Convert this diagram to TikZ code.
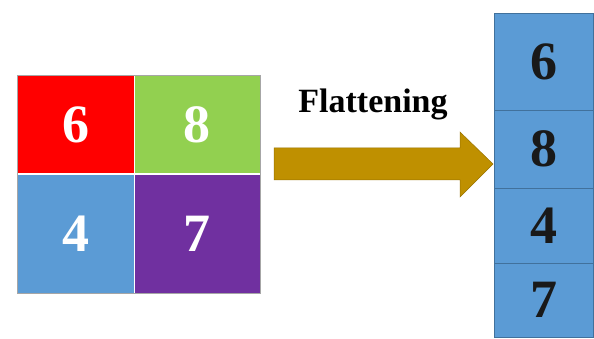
\documentclass[tikz,border=0pt]{standalone}
\usepackage{fontspec}
\setmainfont{Liberation Serif}
\definecolor{cred}{HTML}{FF0000}
\definecolor{cgreen}{HTML}{92D050}
\definecolor{cblue}{HTML}{5B9BD5}
\definecolor{cpurple}{HTML}{7030A0}
\definecolor{cgold}{HTML}{BF9000}
\definecolor{cedge}{HTML}{41719C}
\begin{document}
\begin{tikzpicture}[x=1pt,y=-1pt,
  cell/.style={draw=white, line width=1pt, inner sep=0pt, outer sep=0pt,
    text=white, font=\fontsize{54}{54}\selectfont\bfseries},
  flatcell/.style={draw=cedge, line width=0.8pt, fill=cblue, inner sep=0pt, outer sep=0pt,
    minimum width=99pt, text=black!90,
    font=\fontsize{54}{54}\selectfont\bfseries}]
\useasboundingbox[fill=white] (0,0) rectangle (594,339);
% left 2x2 grid
\node[cell, fill=cred, minimum width=117pt, minimum height=99pt] (c6) at (75.5,124.5) {6};
\node[cell, fill=cgreen, minimum width=126pt, minimum height=99pt] (c8) at (197,124.5) {8};
\node[cell, fill=cblue, minimum width=117pt, minimum height=118pt] (c4) at (75.5,234) {4};
\node[cell, fill=cpurple, minimum width=126pt, minimum height=118pt] (c7) at (197,234) {7};
\draw[black!35, line width=0.5pt] (c6.north west) -- (c8.north east) -- (c7.south east) -- (c4.south west) -- cycle;
% arrow
\draw[fill=cgold, draw=cgold!80!black, line width=0.5pt]
  (274,148) -- (460,148) -- (460,132) -- (493,164) -- (460,197) -- (460,180) -- (274,180) -- cycle;
\node[font=\fontsize{34}{34}\selectfont\bfseries] (lbl) at (373,104) {Flattening};
% flattened column
\node[flatcell, minimum height=97pt] (f6) at (543.5,61.5) {6};
\node[flatcell, minimum height=78pt] (f8) at (543.5,149) {8};
\node[flatcell, minimum height=75pt] (f4) at (543.5,225.5) {4};
\node[flatcell, minimum height=74pt] (f7) at (543.5,300) {7};
\end{tikzpicture}
\end{document}
